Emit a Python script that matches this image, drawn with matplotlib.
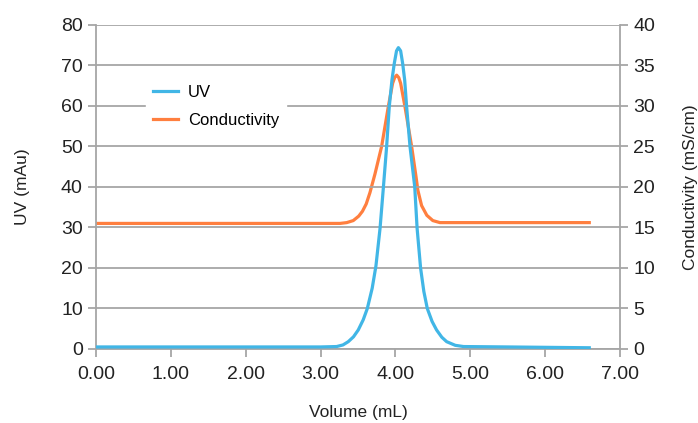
import numpy as np
import matplotlib.pyplot as plt

plt.rcParams['font.family'] = ['Liberation Sans Narrow', 'Liberation Sans', 'DejaVu Sans']

# UV trace (mAu)
uv_vol = [0.00, 1.00, 2.00, 3.00, 3.215, 3.30, 3.37, 3.44, 3.504, 3.57, 3.625, 3.69, 3.74, 3.795,
          3.84, 3.883, 3.918, 3.954, 3.985, 4.015, 4.04, 4.07, 4.097, 4.124, 4.15, 4.195,
          4.258, 4.29, 4.337, 4.38, 4.426, 4.49, 4.55, 4.62, 4.685, 4.80, 4.91, 5.50, 6.59]
uv_val = [0.5, 0.5, 0.5, 0.5, 0.6, 1.0, 1.8, 3.0, 4.7, 7.2, 10.0, 15.0, 20.5, 29.8,
          40.0, 50.0, 59.8, 66.4, 70.5, 73.6, 74.4, 73.6, 70.5, 66.4, 59.8, 50.0,
          40.1, 29.8, 19.9, 14.2, 10.0, 6.8, 4.7, 2.9, 1.8, 0.9, 0.6, 0.5, 0.3]

# Conductivity trace (mS/cm)
cond_vol = [0.00, 1.00, 2.00, 3.00, 3.26, 3.35, 3.437, 3.51, 3.56, 3.61, 3.66, 3.727, 3.816,
            3.905, 3.963, 3.99, 4.017, 4.045, 4.07, 4.128, 4.217, 4.275, 4.30, 4.35, 4.42,
            4.50, 4.595, 5.50, 6.59]
cond_val = [15.5, 15.5, 15.5, 15.5, 15.5, 15.6, 15.85, 16.4, 17.0, 17.9, 19.3, 21.6, 25.0,
            29.9, 32.8, 33.5, 33.8, 33.5, 32.8, 29.9, 25.0, 21.3, 19.6, 17.7, 16.5,
            15.85, 15.6, 15.6, 15.6]

uv_color = '#41b6e6'
cond_color = '#ff7f3f'
grid_color = '#a6a6a6'

fig = plt.figure(figsize=(6.98, 4.23), dpi=100)
ax = fig.add_axes([0.1375, 0.175, 0.7507, 0.766])
ax2 = ax.twinx()

l1, = ax.plot(uv_vol, uv_val, color=uv_color, lw=2.3, label='UV', zorder=3,
              solid_joinstyle='round')
l2, = ax2.plot(cond_vol, cond_val, color=cond_color, lw=2.3, label='Conductivity', zorder=2,
               solid_joinstyle='round')
ax.set_zorder(ax2.get_zorder() + 1)
ax.patch.set_visible(False)

ax.set_xlim(0, 7)
ax.set_ylim(0, 80)
ax2.set_ylim(0, 40)
ax.set_xticks(np.arange(0, 8, 1))
ax.set_xticklabels(['%.2f' % v for v in range(8)])
ax.set_yticks(np.arange(0, 90, 10))
ax2.set_yticks(np.arange(0, 45, 5))

ax.yaxis.grid(True, color=grid_color, lw=1.3)
ax.set_axisbelow(True)

for a in (ax, ax2):
    for s in a.spines.values():
        s.set_visible(False)
    a.tick_params(colors=grid_color, labelcolor='#222222', labelsize=14, width=1.3, length=6)
ax.spines['left'].set_visible(True)
ax.spines['bottom'].set_visible(True)
ax.spines['left'].set_color(grid_color)
ax.spines['bottom'].set_color(grid_color)
ax.spines['left'].set_linewidth(1.3)
ax.spines['bottom'].set_linewidth(1.3)
ax2.spines['right'].set_visible(True)
ax2.spines['right'].set_color(grid_color)
ax2.spines['right'].set_linewidth(1.3)
ax.tick_params(axis='x', pad=6)

ax.set_xlabel('Volume (mL)', fontsize=12.5, color='#222222', labelpad=16)
ax.set_ylabel('UV (mAu)', fontsize=12.5, color='#222222', labelpad=22)
ax2.set_ylabel('Conductivity (mS/cm)', fontsize=12.5, color='#222222', labelpad=20)

leg = ax.legend(handles=[l1, l2], loc='upper left', bbox_to_anchor=(0.08, 0.86),
                frameon=True, fancybox=False, framealpha=1, edgecolor='white',
                fontsize=12, handlelength=1.5, handletextpad=0.6, labelspacing=0.75)
leg.set_zorder(5)

fig.savefig('out.png', dpi=100)
